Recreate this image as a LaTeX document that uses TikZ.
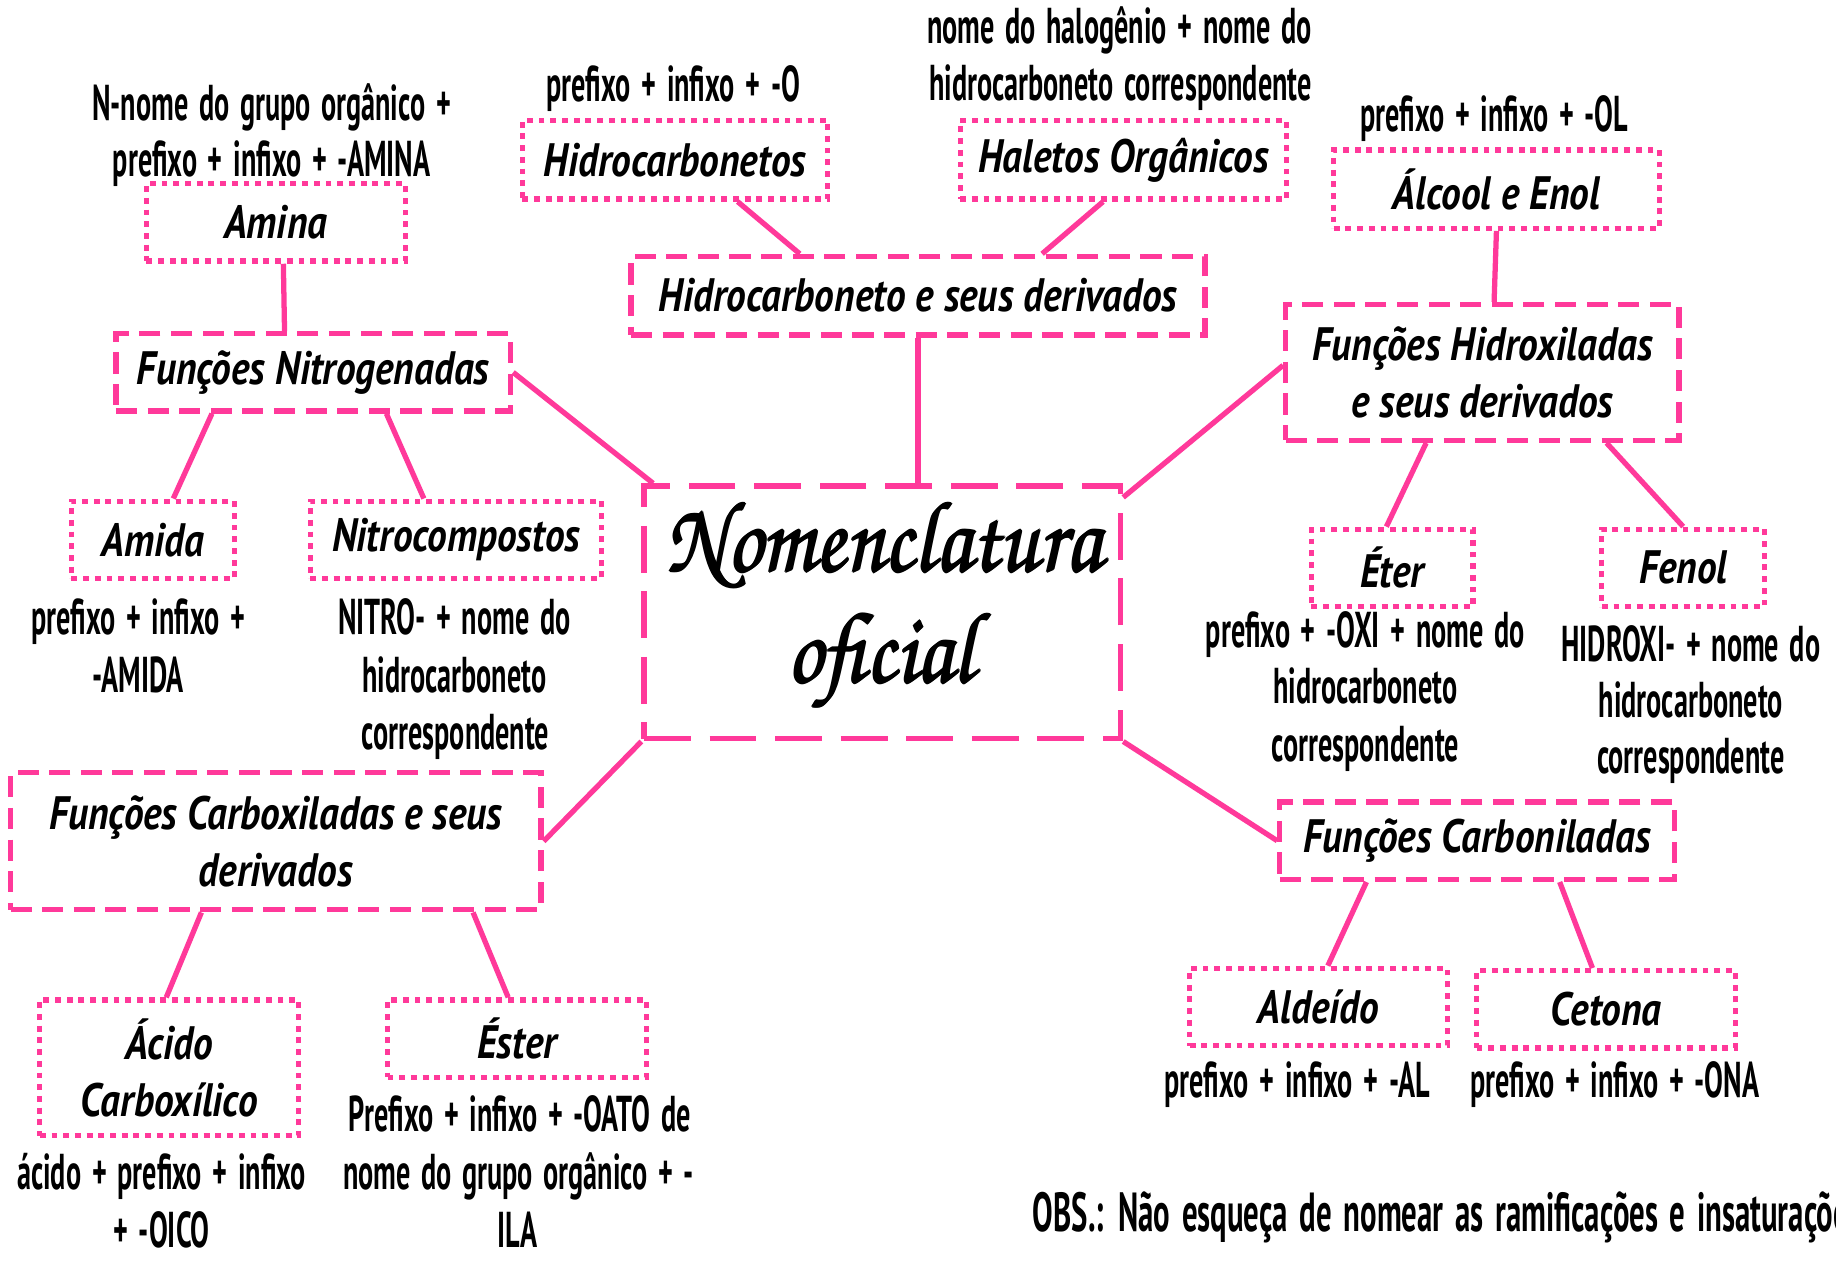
\documentclass[tikz,border=0pt]{standalone}
\usepackage[T1]{fontenc}
\usepackage{fontspec}
\newfontfamily\annfont[FakeStretch=0.56,WordSpace=1.5]{PT Sans}
\newfontfamily\lblfont[FakeStretch=0.84]{PT Sans}
\definecolor{hotpink}{RGB}{255,57,154}
\newcommand{\myfb}[1]{\rlap{#1}\rlap{\kern2pt#1}\rlap{\kern1pt\raisebox{1pt}{#1}}\rlap{\kern1pt\raisebox{-1pt}{#1}}\kern1pt#1\kern1pt}
\tikzset{
  ann/.style={font=\annfont\bfseries\fontsize{43}{49}\selectfont, inner sep=0pt, anchor=base, text=black},
  obsfont/.style={font=\annfont\bfseries\fontsize{47}{49}\selectfont},
  lbl/.style={font=\lblfont\bfseries\itshape\fontsize{40}{49}\selectfont, align=center, text=black},
  dotbox/.style={draw=hotpink, line width=4.5pt, dash pattern=on 5pt off 5pt, inner sep=0pt, lbl},
  dashbox/.style={draw=hotpink, line width=4.5pt, dash pattern=on 18pt off 9pt, inner sep=0pt, lbl},
  bigbox/.style={draw=hotpink, line width=4.5pt, dash pattern=on 40pt off 16pt, inner sep=0pt},
  conn/.style={draw=hotpink, line width=4.5pt},
  titlefont/.style={font=\fontencoding{T1}\fontfamily{pzc}\fontseries{mb}\fontshape{it}\fontsize{86}{90}\selectfont, inner sep=0pt, anchor=base},
}
\begin{document}
\begin{tikzpicture}[x=1pt,y=-1pt]
\useasboundingbox (0,0) rectangle (1568,1077);
\clip (0,0) rectangle (1568,1077);
\fill[white] (0,0) rectangle (1568,1077);

% boxes
\node[bigbox, minimum width=407, minimum height=216] (central) at (753.5,523) {};
\node[titlefont] (t1) at (755,488) {\scalebox{0.86}[1]{\myfb{Nomenclatura}}};
\node[titlefont] (t2) at (752,583) {\scalebox{0.86}[1]{\myfb{oficial}}};

\node[dotbox, minimum width=221, minimum height=66] (amina) at (235.5,190) {Amina};
\node[dashbox, minimum width=337, minimum height=66] (nitro) at (267.5,318) {Funções Nitrogenadas};
\node[dotbox, minimum width=139, minimum height=66] (amida) at (130.5,461) {Amida};
\node[dotbox, minimum width=249, minimum height=66] (nitrocomp) at (389.5,461) {Nitrocompostos};
\node[dotbox, minimum width=261, minimum height=67] (hidrocarb) at (576.5,136.5) {Hidrocarbonetos};
\node[dotbox, minimum width=279, minimum height=67] (haletos) at (959.5,136.5) {Haletos Orgânicos};
\node[dashbox, minimum width=490, minimum height=67] (hderiv) at (784,252.5) {Hidrocarboneto e seus derivados};
\node[dotbox, minimum width=278, minimum height=67] (alcool) at (1278,161.5) {Álcool e Enol};
\node[dashbox, minimum width=336, minimum height=116] (hidrox) at (1266,318) {Funções Hidroxiladas\\e seus derivados};
\node[dotbox, minimum width=138, minimum height=66] (eter) at (1189,485) {Éter};
\node[dotbox, minimum width=139, minimum height=66] (fenol) at (1437.5,485) {Fenol};
\node[dashbox, minimum width=453, minimum height=117] (carbox) at (235.5,718.5) {Funções Carboxiladas e seus\\derivados};
\node[dotbox, minimum width=221, minimum height=116] (acido) at (144.5,912) {Ácido\\Carboxílico};
\node[dotbox, minimum width=221, minimum height=66] (ester) at (441.5,887) {Éster};
\node[dashbox, minimum width=337, minimum height=66] (carbon) at (1261.5,718) {Funções Carboniladas};
\node[dotbox, minimum width=220, minimum height=66] (aldeido) at (1126,860) {Aldeído};
\node[dotbox, minimum width=221, minimum height=66] (cetona) at (1371.5,862) {Cetona};

% connectors
\draw[conn] ([xshift=6.5]amina.south) -- ([xshift=-24.5]nitro.north);
\draw[conn] ([xshift=-86.5]nitro.south) -- ([xshift=17.5]amida.north);
\draw[conn] ([xshift=62.5]nitro.south) -- ([xshift=-27.5]nitrocomp.north);
\draw[conn] (nitro.east) -- ([xshift=10]central.north west);
\draw[conn] ([xshift=53.5]hidrocarb.south) -- ([xshift=-101]hderiv.north);
\draw[conn] ([xshift=-17.5]haletos.south) -- ([xshift=106]hderiv.north);
\draw[conn] (hderiv.south) -- ([xshift=30.5]central.north);
\draw[conn] (alcool.south) -- ([xshift=10]hidrox.north);
\draw[conn] ([yshift=6]hidrox.west) -- ([yshift=-12]central.north east);
\draw[conn] ([xshift=-48]hidrox.south) -- ([xshift=-5]eter.north);
\draw[conn] ([xshift=106]hidrox.south) -- (fenol.north);
\draw[conn] (central.south west) -- (carbox.east);
\draw[conn] ([xshift=-63.5]carbox.south) -- ([xshift=-2.5]acido.north);
\draw[conn] ([xshift=168.5]carbox.south) -- ([xshift=-7.5]ester.north);
\draw[conn] (central.south east) -- (carbon.west);
\draw[conn] ([xshift=-94.5]carbon.south) -- ([xshift=8]aldeido.north);
\draw[conn] ([xshift=70.5]carbon.south) -- ([xshift=-11.5]cetona.north);

% annotations
\node[ann] (a1) at (232,103) {N-nome do grupo orgânico +};
\node[ann] (a2) at (232,151) {prefixo + infixo + -AMINA};
\node[ann] (h1) at (575,87) {prefixo + infixo + -O};
\node[ann] (ha1) at (956,37) {nome do halogênio + nome do};
\node[ann] (ha2) at (957,86) {hidrocarboneto correspondente};
\node[ann] (al1) at (1276,112) {prefixo + infixo + -OL};
\node[ann] (am1) at (118,542) {prefixo + infixo +};
\node[ann] (am2) at (118,591) {-AMIDA};
\node[ann] (n1) at (388,542) {NITRO- + nome do};
\node[ann] (n2) at (388,591) {hidrocarboneto};
\node[ann] (n3) at (389,640) {correspondente};
\node[ann] (e1) at (1166,553) {prefixo + -OXI + nome do};
\node[ann] (e2) at (1166,601) {hidrocarboneto};
\node[ann] (e3) at (1166,650) {correspondente};
\node[ann] (f1) at (1444,565) {HIDROXI- + nome do};
\node[ann] (f2) at (1444,613) {hidrocarboneto};
\node[ann] (f3) at (1444,661) {correspondente};
\node[ann] (ac1) at (138,1016) {ácido + prefixo + infixo};
\node[ann] (ac2) at (138,1065) {+ -OICO};
\node[ann] (es1) at (444,966) {Prefixo + infixo + -OATO de};
\node[ann] (es2) at (443,1016) {nome do grupo orgânico + -};
\node[ann] (es3) at (442,1065) {ILA};
\node[ann] (ald1) at (1108,937) {prefixo + infixo + -AL};
\node[ann] (cet1) at (1379,937) {prefixo + infixo + -ONA};
\node[ann, obsfont, anchor=base west] (obs) at (882,1052) {OBS.: Não esqueça de nomear as ramificações e insaturações};
\end{tikzpicture}
\end{document}
